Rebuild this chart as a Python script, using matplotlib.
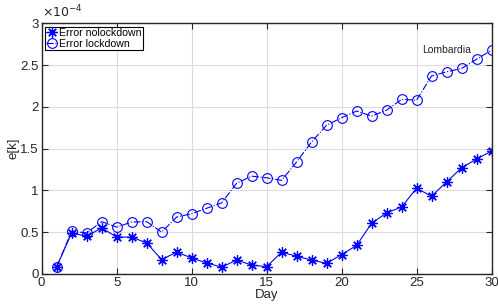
import numpy as np
import matplotlib
matplotlib.use('Agg')
import matplotlib.pyplot as plt

plt.rcParams['font.family'] = ['Liberation Sans', 'DejaVu Sans']

days = list(range(1, 31))
err_nolockdown = [0.085, 0.49, 0.45, 0.55, 0.44, 0.44, 0.37, 0.17, 0.26, 0.19,
                  0.13, 0.08, 0.165, 0.105, 0.085, 0.26, 0.21, 0.165, 0.125, 0.23,
                  0.34, 0.605, 0.73, 0.80, 1.025, 0.93, 1.10, 1.27, 1.375, 1.47]
err_lockdown = [0.085, 0.51, 0.49, 0.625, 0.56, 0.62, 0.625, 0.50, 0.68, 0.72,
                0.785, 0.85, 1.085, 1.17, 1.15, 1.12, 1.34, 1.58, 1.78, 1.87,
                1.95, 1.89, 1.96, 2.09, 2.08, 2.37, 2.42, 2.46, 2.57, 2.68]
scale = 1e-4
xticks = [0, 5, 10, 15, 20, 25, 30]
yticks = [0, 0.5, 1, 1.5, 2, 2.5, 3]
ytick_labels = ['0', '0.5', '1', '1.5', '2', '2.5', '3']

fig = plt.figure(figsize=(4.98, 3.08), dpi=100)
ax = fig.add_axes([0.0837, 0.111, 0.9033, 0.813])

blue = '#0000ff'
# matlab-style asterisk marker: 8 spokes
ax.plot(days, np.array(err_nolockdown) * scale, '-', color=blue, lw=0.8,
        marker=(8, 2, 0), ms=7.5, mew=0.9, label='Error nolockdown')
ax.plot(days, np.array(err_lockdown) * scale, '-.', color=blue, lw=0.8,
        marker='o', ms=7, mfc='none', mew=0.8, label='Error lockdown')

ax.text(25.4, 2.68 * scale, 'Lombardia', fontsize=7.5, color='#262626', va='center')

ax.set_xlim(0, 30)
ax.set_ylim(0, 3 * scale)
ax.set_xticks(xticks)
ax.set_yticks(np.array(yticks) * scale)
ax.set_yticklabels(ytick_labels)
ax.grid(True, color='#dcdcdc', lw=0.8)
ax.set_axisbelow(True)
ax.tick_params(direction='in', top=True, right=True, length=4, width=0.8,
               labelsize=9.5, colors='#262626', pad=2)
for s in ax.spines.values():
    s.set_color('#262626')
    s.set_linewidth(1.0)

ax.set_xlabel('Day', fontsize=9.5, color='#262626', labelpad=0)
ax.set_ylabel('e[k]', fontsize=9.5, color='#262626', labelpad=1)
ax.text(0.0, 1.012, r'$\times10^{-4}$', transform=ax.transAxes, fontsize=9,
        color='#262626', va='bottom', ha='left')

leg = ax.legend(loc='upper left', fontsize=7.6, frameon=True, fancybox=False,
                borderpad=0.15, handlelength=1.0, handletextpad=0.15,
                labelspacing=0.05, borderaxespad=0.3, framealpha=1)
leg.get_frame().set_edgecolor('black')
leg.get_frame().set_linewidth(0.8)

fig.savefig('out.png', dpi=100)
